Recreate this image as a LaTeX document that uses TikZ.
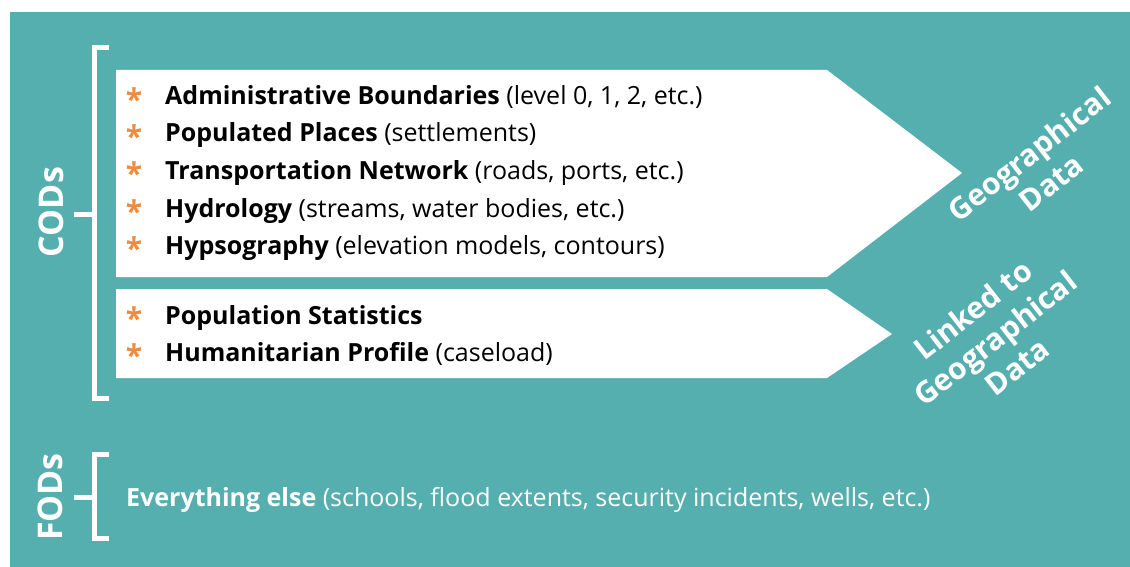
\documentclass[tikz,border=0pt]{standalone}
\usepackage{fontspec}
\setmainfont{Open Sans}
\definecolor{codteal}{HTML}{56AFAF}
\definecolor{codorange}{HTML}{F08A3C}

\begin{document}
\begin{tikzpicture}[x=1pt, y=-1pt]
\tikzset{item/.style={anchor=base west, inner sep=0pt, font=\fontsize{25}{30}\selectfont},
         star/.style={anchor=north, inner sep=0pt, text=codorange, font=\fontsize{30}{30}\selectfont\bfseries},
         brace/.style={white, line width=5pt},
         side/.style={rotate=90, white, inner sep=0pt, font=\fontsize{34}{40}\selectfont\bfseries},
         arrowtext/.style={rotate=38, white, align=center, inner sep=0pt, font=\fontsize{30}{36}\selectfont\bfseries}}
\useasboundingbox (0,0) rectangle (1130,567);
\fill[codteal] (10,12) rectangle (1130,567);

% the two white arrows
\fill[white] (116,70) -- (827,70) -- (962,173) -- (827,277) -- (116,277) -- cycle;
\fill[white] (116,289) -- (827,289) -- (892,334) -- (827,378) -- (116,378) -- cycle;

\node[star] (s1) at (134,88) {*};
\node[star] (s2) at (134,125) {*};
\node[star] (s3) at (134,162) {*};
\node[star] (s4) at (134,200) {*};
\node[star] (s5) at (134,237) {*};
\node[star] (s6) at (134,307) {*};
\node[star] (s7) at (134,344) {*};

\node[item] (admin) at (165,105) {\textbf{Administrative Boundaries} (level 0, 1, 2, etc.)};
\node[item] (places) at (165,142) {\textbf{Populated Places} (settlements)};
\node[item] (transport) at (165,179) {\textbf{Transportation Network} (roads, ports, etc.)};
\node[item] (hydro) at (165,217) {\textbf{Hydrology} (streams, water bodies, etc.)};
\node[item] (hypso) at (165,254) {\textbf{Hypsography} (elevation models, contours)};
\node[item] (popstats) at (165,324) {\textbf{Population Statistics}};
\node[item] (humprof) at (165,361) {\textbf{Humanitarian Profile} (caseload)};

\node[item, text=white] (else) at (126,506) {\textbf{Everything else} (schools, flood extents, security incidents, wells, etc.)};

\node[arrowtext] (geo) at (1040,168) {Geographical\\Data};
\node[arrowtext] (linked) at (995,338) {Linked to\\Geographical\\Data};

% brackets
\node[side] (cods) at (51,212) {CODs};
\node[side] (fods) at (50,497) {FODs};
\coordinate (c-top) at (109,48);
\coordinate (c-bot) at (109,398);
\coordinate (c-mid) at (74,214.5);
\coordinate (f-top) at (109,454);
\coordinate (f-bot) at (109,538);
\coordinate (f-mid) at (74,497.5);
\draw[brace] (c-top) -- ++(-14.5,0) |- (c-bot);
\draw[brace] (c-mid) -- ++(20.5,0);
\draw[brace] (f-top) -- ++(-14.5,0) |- (f-bot);
\draw[brace] (f-mid) -- ++(20.5,0);
\end{tikzpicture}
\end{document}
